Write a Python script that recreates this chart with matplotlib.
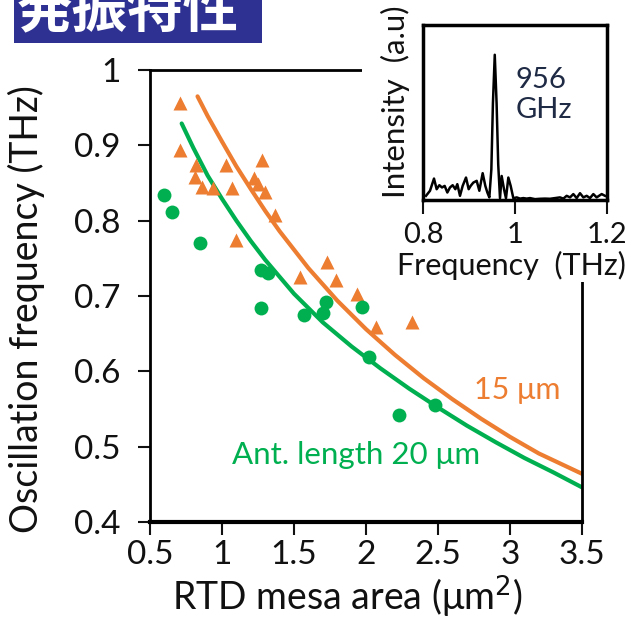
import numpy as np
import matplotlib.pyplot as plt
from matplotlib.patches import Rectangle

plt.rcParams['font.family'] = ['Lato', 'DejaVu Sans']

# 15 um antenna (orange triangles)
area_15 = [0.71, 0.71, 0.82, 0.81, 0.86, 0.94, 1.03, 1.07, 1.10, 1.22, 1.25, 1.28,
           1.30, 1.37, 1.54, 1.73, 1.79, 1.94, 2.07, 2.32]
freq_15 = [0.956, 0.894, 0.874, 0.858, 0.845, 0.843, 0.874, 0.843, 0.774, 0.856,
           0.849, 0.880, 0.838, 0.807, 0.725, 0.745, 0.721, 0.703, 0.659, 0.666]

# 20 um antenna (green circles)
area_20 = [0.60, 0.65, 0.85, 1.27, 1.32, 1.27, 1.57, 1.70, 1.72, 1.97, 2.02, 2.23, 2.48]
freq_20 = [0.834, 0.812, 0.770, 0.734, 0.730, 0.684, 0.675, 0.677, 0.692, 0.686,
           0.619, 0.542, 0.555]

# fitted curves
fit_x_15 = [0.83, 0.9, 1.0, 1.1, 1.2, 1.3, 1.4, 1.6, 1.8, 2.0, 2.2, 2.4, 2.6, 2.8, 3.0, 3.2, 3.5]
fit_y_15 = [0.965, 0.939, 0.905, 0.872, 0.842, 0.813, 0.786, 0.737, 0.694, 0.656, 0.622,
            0.591, 0.563, 0.537, 0.513, 0.491, 0.464]
fit_x_20 = [0.72, 0.8, 0.9, 1.0, 1.1, 1.2, 1.3, 1.5, 1.7, 1.9, 2.1, 2.3, 2.5, 2.7, 2.9, 3.1, 3.3, 3.5]
fit_y_20 = [0.929, 0.897, 0.860, 0.829, 0.800, 0.773, 0.748, 0.703, 0.665, 0.633, 0.604,
            0.577, 0.552, 0.528, 0.506, 0.485, 0.466, 0.446]

# inset spectrum
spec_f = [0.8065, 0.8152, 0.8239, 0.8297, 0.8355, 0.8413, 0.8471, 0.8529, 0.8587, 0.8645,
          0.8703, 0.8746, 0.8804, 0.8862, 0.8935, 0.8993, 0.9036, 0.9094, 0.9167, 0.9225,
          0.9297, 0.9355, 0.9399, 0.9442, 0.9486, 0.9520, 0.9560, 0.9600, 0.9635, 0.9674,
          0.9710, 0.9761, 0.9804, 0.9855, 0.9906, 0.9964, 1.0036, 1.0109, 1.0181, 1.0254,
          1.0326, 1.0435, 1.0543, 1.0652, 1.0761, 1.0870, 1.0978, 1.1051, 1.1123, 1.1196,
          1.1268, 1.1341, 1.1413, 1.1486, 1.1558, 1.1630, 1.1703, 1.1775, 1.1884, 1.1957]
spec_i = [0.019, 0.048, 0.118, 0.057, 0.080, 0.067, 0.076, 0.038, 0.067, 0.080,
          0.057, 0.086, 0.019, 0.076, 0.124, 0.057, 0.076, 0.095, 0.105, 0.048,
          0.149, 0.076, 0.038, 0.010, 0.171, 0.550, 0.829, 0.550, 0.200, 0.005,
          0.133, 0.057, 0.005, 0.124, 0.076, 0.005, 0.010, 0.003, 0.006, 0.003,
          0.006, 0.000, 0.002, 0.003, 0.002, 0.006, 0.010, 0.003, 0.019, 0.010,
          0.029, 0.006, 0.034, 0.010, 0.019, 0.006, 0.029, 0.010, 0.029, 0.019]

orange = '#ED7D31'
green = '#00B050'
txt = '#111111'

fig = plt.figure(figsize=(6.34, 6.20), dpi=100)
ax = fig.add_axes([150/634, 1-522/620, 432/634, 452/620])
ax.plot(fit_x_15, fit_y_15, color=orange, lw=3, solid_capstyle='round', zorder=2)
ax.plot(fit_x_20, fit_y_20, color=green, lw=3, solid_capstyle='round', zorder=2)
ax.plot(area_15, freq_15, '^', color=orange, ms=10, mec='none', zorder=3)
ax.plot(area_20, freq_20, 'o', color=green, ms=10, mec='none', zorder=3)

ax.set_xlim(0.5, 3.5)
ax.set_ylim(0.4, 1.0)
ax.set_xticks([0.5, 1, 1.5, 2, 2.5, 3, 3.5])
ax.set_xticklabels(['0.5', '1', '1.5', '2', '2.5', '3', '3.5'])
ax.set_yticks([0.4, 0.5, 0.6, 0.7, 0.8, 0.9, 1.0])
ax.set_yticklabels(['0.4', '0.5', '0.6', '0.7', '0.8', '0.9', '1'])
ax.tick_params(axis='both', direction='out', length=9, width=1.5, labelsize=24, colors=txt)
ax.tick_params(axis='y', pad=12)
ax.tick_params(axis='x', pad=4)
for s in ax.spines.values():
    s.set_linewidth(2)
ax.spines['bottom'].set_linewidth(3)
ax.set_xlabel('RTD mesa area (μm$^2$)', fontsize=27, color=txt)
ax.set_ylabel('Oscillation frequency (THz)', fontsize=27, color=txt)
ax.xaxis.set_label_coords(0.456, -0.115)
ax.yaxis.set_label_coords(-0.243, 0.47)

ax.text(2.75, 0.575, '15 μm', color=orange, fontsize=22, ha='left', va='center')
ax.text(1.07, 0.489, 'Ant. length 20 μm', color=green, fontsize=22.5, ha='left', va='center')

# white patch hiding the top/right spines behind the inset
fig.add_artist(Rectangle((362/634, 1-282/620), 1, 1, transform=fig.transFigure,
                         facecolor='white', edgecolor='none', zorder=1))

ins = fig.add_axes([423/634, 1-200/620, 184/634, 175/620], zorder=2)
ins.plot(spec_f, spec_i, color='black', lw=1.8)
ins.set_xlim(0.8, 1.2)
ins.set_ylim(-0.005, 1.0)
ins.set_xticks([0.8, 1.0, 1.2])
ins.set_xticklabels(['0.8', '1', '1.2'])
ins.set_yticks([])
ins.tick_params(axis='x', direction='out', length=10, width=1.5, labelsize=21, colors=txt, pad=6)
for s in ins.spines.values():
    s.set_linewidth(2.5)
ins.set_xlabel('Frequency  (THz)', fontsize=22, color=txt)
ins.set_ylabel('Intensity  (a.u)', fontsize=22.5, color=txt)
ins.xaxis.set_label_coords(0.48, -0.29)
ins.yaxis.set_label_coords(-0.07, 0.56)
ins.text(0.505, 0.60, '956\nGHz', transform=ins.transAxes, fontsize=21, color='#1f2a44',
         ha='left', va='center', linespacing=1.2)

# title box
fig.add_artist(Rectangle((14/634, 1-43/620), 248/634, 43/620, transform=fig.transFigure,
                         facecolor='#2E3192', edgecolor='none', zorder=3))
fig.text(128/634, 1-10/620, '発振特性', fontsize=40, fontweight='bold', color='white',
         ha='center', va='center', family=['Noto Sans CJK JP', 'DejaVu Sans'], zorder=4)

fig.savefig('out.png', dpi=100)
